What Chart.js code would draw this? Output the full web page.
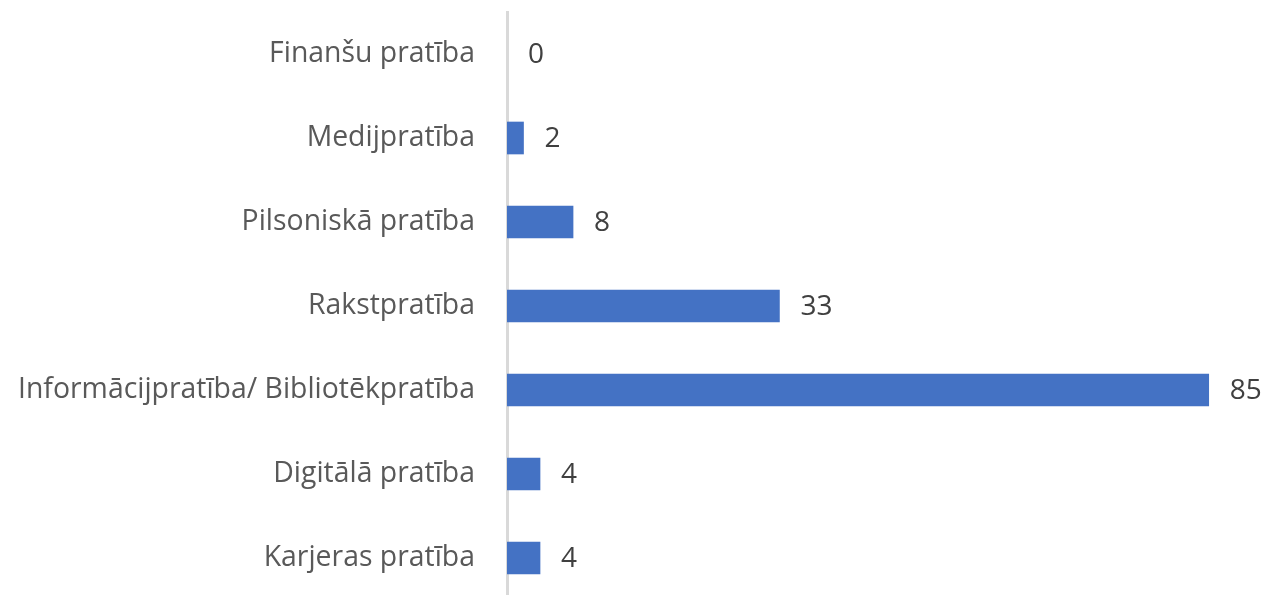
<!DOCTYPE html>
<html>
<head>
<meta charset="utf-8">
<script src="https://cdn.jsdelivr.net/npm/chart.js@4"></script>
<style>
  html, body { margin: 0; padding: 0; background: #fff; overflow: hidden; }
  #wrap { width: 1271px; height: 600px; }
</style>
</head>
<body>
<div id="wrap"><canvas id="c"></canvas></div>
<script>
const categories = ['Finanšu pratība', 'Medijpratība', 'Pilsoniskā pratība', 'Rakstpratība', 'Informācijpratība/ Bibliotēkpratība', 'Digitālā pratība', 'Karjeras pratība'];
const values = [0, 2, 8, 33, 85, 4, 4];

const fontFamily = '"Open Sans", "Noto Sans", sans-serif';

// value labels to the right of each bar
const valueLabels = {
  id: 'valueLabels',
  afterDatasetsDraw(chart){
    const {ctx} = chart;
    const ds = chart.data.datasets[0];
    chart.getDatasetMeta(0).data.forEach((bar, i) => {
      ctx.save();
      ctx.fillStyle = '#404040';
      ctx.font = '28px ' + fontFamily;
      ctx.textAlign = 'left';
      ctx.textBaseline = 'middle';
      ctx.fillText(String(ds.data[i]), bar.x + 21, bar.y + 1);
      ctx.restore();
    });
  }
};

new Chart(document.getElementById('c'), {
  type: 'bar',
  data: {
    labels: categories,
    datasets: [{
      data: values,
      // a zero bar should leave no sliver
      backgroundColor: c => c.raw === 0 ? 'rgba(0,0,0,0)' : '#4472c4',
      barThickness: 32
    }]
  },
  options: {
    indexAxis: 'y',
    responsive: true,
    maintainAspectRatio: false,
    animation: false,
    layout: { padding: { top: 12, right: 21, bottom: 0, left: 0 } },
    plugins: { legend: { display: false }, tooltip: { enabled: false } },
    scales: {
      x: { display: false, min: 0, max: 90 },
      y: {
        grid: { display: false, drawTicks: false },
        border: { display: true, color: '#d9d9d9', width: 3 },
        ticks: { color: '#595959', font: { family: fontFamily, size: 28.4 }, padding: 32 },
        afterFit(scale){
          scale.width = 507;
          scale.paddingTop = 0;
          scale.paddingBottom = 0;
        }
      }
    }
  },
  plugins: [valueLabels]
});
</script>
</body>
</html>
